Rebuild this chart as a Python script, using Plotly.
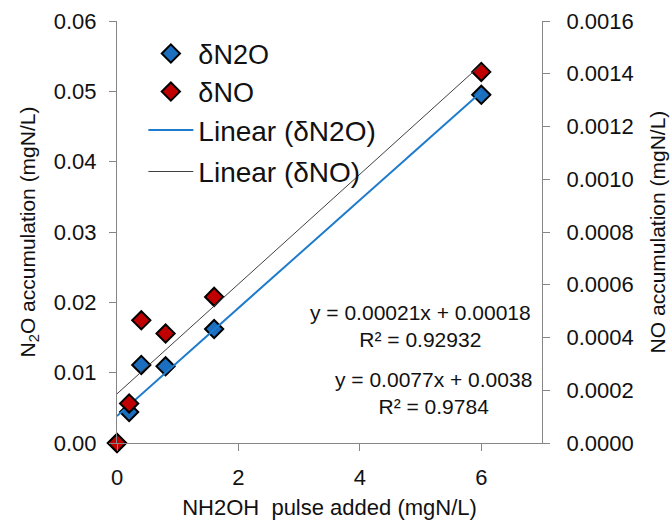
import numpy as np
import plotly.graph_objects as go

# ---- data ----
nh2oh_added = [0, 0.2, 0.4, 0.8, 1.6, 6]
n2o_accum = [0.0, 0.0044, 0.0111, 0.0109, 0.0162, 0.0495]
no_accum = [0.0, 0.00015, 0.000465, 0.000415, 0.000554, 0.001407]
x_ticks = [0, 2, 4, 6]
eq_n2o = ["y = 0.0077x + 0.0038", "R² = 0.9784"]
eq_no = ["y = 0.00021x + 0.00018", "R² = 0.92932"]

FONT = "Liberation Sans, Arial, sans-serif"
AXIS_GRAY = "#868686"
BLUE = "#1C6EBF"
RED = "#C00000"

x = np.array(nh2oh_added, dtype=float)
fit_x = np.array([x.min(), x.max()])
s1, b1 = np.polyfit(x, np.array(n2o_accum), 1)
s2, b2 = np.polyfit(x, np.array(no_accum), 1)

fig = go.Figure()
fig.add_trace(go.Scatter(
    x=nh2oh_added, y=n2o_accum, mode="markers", name="δN2O",
    marker=dict(symbol="diamond", size=14, color=BLUE, line=dict(color="black", width=2)),
    cliponaxis=False, legend="legend", legendgroup="a"))
fig.add_trace(go.Scatter(
    x=nh2oh_added, y=no_accum, mode="markers", name="δNO", yaxis="y2",
    marker=dict(symbol="diamond", size=14, color=RED, line=dict(color="black", width=2)),
    cliponaxis=False, legend="legend", legendgroup="b"))
fig.add_trace(go.Scatter(
    x=fit_x, y=s1 * fit_x + b1, mode="lines", name="Linear (δN2O)",
    line=dict(color="#1F7BCB", width=2), legend="legend2", legendgroup="c"))
fig.add_trace(go.Scatter(
    x=fit_x, y=s2 * fit_x + b2, mode="lines", name="Linear (δNO)", yaxis="y2",
    line=dict(color="#404040", width=1), legend="legend2", legendgroup="d"))

axis_common = dict(showline=True, linecolor=AXIS_GRAY, linewidth=1, ticks="outside",
                   ticklen=7, tickcolor=AXIS_GRAY, showgrid=False, zeroline=False,
                   tickfont=dict(family=FONT, size=22, color="#111111"))

fig.update_layout(
    width=672, height=525,
    margin=dict(l=117, r=130, t=21, b=82, autoexpand=False),
    paper_bgcolor="white", plot_bgcolor="white",
    font=dict(family=FONT, color="#111111"),
    xaxis=dict(range=[0, 7], tickvals=x_ticks, ticklabelstandoff=8,
               title=dict(text="NH2OH\u00a0 pulse added (mgN/L)", font=dict(size=22), standoff=10),
               **axis_common),
    yaxis=dict(range=[0, 0.06], dtick=0.01, tickformat=".2f", ticklabelstandoff=8,
               title=dict(text="N<sub>2</sub>O accumulation (mgN/L)", font=dict(size=21), standoff=12),
               **axis_common),
    yaxis2=dict(range=[0, 0.0016], dtick=0.0002, tickformat=".4f", overlaying="y", side="right",
                ticklabelstandoff=12,
                title=dict(text="NO accumulation (mgN/L)", font=dict(size=21), standoff=17),
                **axis_common),
    legend=dict(x=0.062, y=0.98, xanchor="left", yanchor="top", bgcolor="rgba(0,0,0,0)",
                font=dict(family=FONT, size=27), tracegroupgap=0, itemwidth=45),
    legend2=dict(x=0.062, y=0.80, xanchor="left", yanchor="top", bgcolor="rgba(0,0,0,0)",
                 font=dict(family=FONT, size=28), tracegroupgap=2, itemwidth=45),
    annotations=[
        dict(xref="paper", yref="paper", x=0.7137, y=0.2777, xanchor="center", yanchor="middle",
             text="<br>".join(eq_no), showarrow=False, align="center",
             font=dict(family=FONT, size=21, color="#111111")),
        dict(xref="paper", yref="paper", x=0.7454, y=0.1178, xanchor="center", yanchor="middle",
             text="<br>".join(eq_n2o), showarrow=False, align="center",
             font=dict(family=FONT, size=21, color="#111111")),
    ],
)

fig.write_html("out.html")
